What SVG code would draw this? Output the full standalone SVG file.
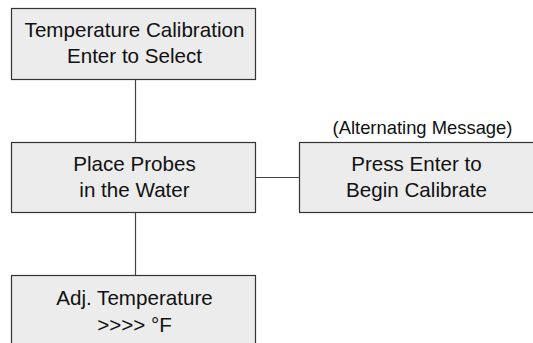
<svg xmlns="http://www.w3.org/2000/svg" width="533" height="343" viewBox="0 0 533 343">
<style>
.box{fill:#ececec;stroke:#333;stroke-width:1.2}
.t{font-family:"Liberation Sans",Arial,sans-serif;font-size:20.6px;fill:#111;text-anchor:middle}
.lbl{font-family:"Liberation Sans",Arial,sans-serif;font-size:18.4px;fill:#111;text-anchor:middle}
.c{stroke:#444;stroke-width:1.2;fill:none}
</style>
<rect width="533" height="343" fill="#fff"/>
<g id="connectors">
<line class="c" x1="135.5" y1="79.5" x2="135.5" y2="142.5"/>
<line class="c" x1="135.5" y1="212.5" x2="135.5" y2="275.5"/>
<line class="c" x1="255.5" y1="177.5" x2="299.5" y2="177.5"/>
</g>
<g id="node-calibration">
<rect class="box" x="11.5" y="8.5" width="244" height="71"/>
<text class="t" x="134.5" y="37">Temperature Calibration</text>
<text class="t" x="134.5" y="63">Enter to Select</text>
</g>
<g id="node-place-probes">
<rect class="box" x="11.5" y="142.5" width="244" height="70"/>
<text class="t" x="134.5" y="171">Place Probes</text>
<text class="t" x="134.5" y="197">in the Water</text>
</g>
<g id="node-press-enter">
<text class="lbl" x="422.5" y="134">(Alternating Message)</text>
<rect class="box" x="299.5" y="142.5" width="240" height="70"/>
<text class="t" x="416.5" y="171">Press Enter to</text>
<text class="t" x="416.5" y="197">Begin Calibrate</text>
</g>
<g id="node-adj-temp">
<rect class="box" x="11.5" y="275.5" width="244" height="80"/>
<text class="t" x="134.5" y="305">Adj. Temperature</text>
<text class="t" x="134.5" y="332">&gt;&gt;&gt;&gt; °F</text>
</g>
</svg>
